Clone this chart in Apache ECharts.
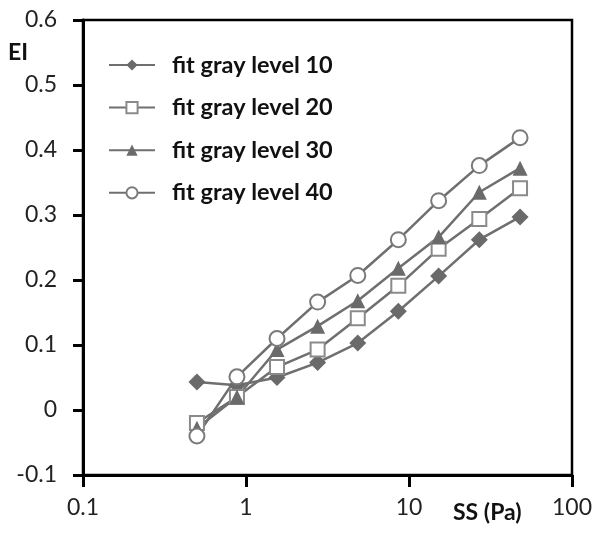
<!DOCTYPE html>
<html>
<head>
<meta charset="utf-8">
<script src="https://cdn.jsdelivr.net/npm/echarts@6/dist/echarts.min.js"></script>
<style>
  html, body { margin: 0; padding: 0; background: #fff; }
  #chart { width: 602px; height: 535px; }
</style>
</head>
<body>
<div id="chart"></div>
<script>
// shear stress (Pa), shared by all series
const ssValues = [0.5, 0.88, 1.55, 2.75, 4.85, 8.6, 15.2, 27, 48];
const seriesNames = ["fit gray level 10", "fit gray level 20", "fit gray level 30", "fit gray level 40"];
const level10 = [0.043, 0.038, 0.05, 0.073, 0.103, 0.152, 0.206, 0.262, 0.297];
const level20 = [-0.02, 0.02, 0.066, 0.093, 0.141, 0.191, 0.248, 0.294, 0.341];
const level30 = [-0.028, 0.02, 0.093, 0.129, 0.168, 0.218, 0.266, 0.335, 0.372];
const level40 = [-0.04, 0.051, 0.11, 0.166, 0.207, 0.262, 0.322, 0.376, 0.419];
const xTicks = ["0.1", "1", "10", "100"];

const lineGray = "#6f6f6f";

function pairs(ys) {
  return ssValues.map((x, i) => [x, ys[i]]);
}

function makeSeries(name, ys, symbol, size, fill, border) {
  return {
    name: name,
    type: "line",
    data: pairs(ys),
    symbol: symbol,
    symbolSize: size,
    lineStyle: { color: lineGray, width: 2.5 },
    itemStyle: { color: fill, borderColor: border, borderWidth: fill === "#fff" ? 2 : 0 },
    z: 3
  };
}

let chart = echarts.init(document.getElementById("chart"));
chart.setOption({
  animation: false,
  backgroundColor: "#fff",
  textStyle: { fontFamily: "Lato" },
  grid: {
    left: 83, right: 30, top: 20, bottom: 60,
    show: true, borderColor: "#000", borderWidth: 2.5
  },
  legend: {
    orient: "vertical",
    left: 103,
    top: 48,
    itemWidth: 46,
    itemHeight: 14,
    itemGap: 18.6,
    data: seriesNames,
    textStyle: { fontFamily: "Lato", fontSize: 23.5, fontWeight: "bold", color: "#111", padding: [0, 0, 0, 12] }
  },
  xAxis: {
    type: "log",
    logBase: 10,
    min: 0.1,
    max: 100,
    axisLine: { show: true, onZero: false, lineStyle: { color: "#000", width: 3 } },
    axisTick: { show: true, inside: false, length: 12, lineStyle: { color: "#000", width: 3 } },
    minorTick: { show: false },
    splitLine: { show: false },
    axisLabel: {
      margin: 21, fontSize: 23, color: "#222", fontFamily: "Lato",
      formatter: function (v) {
        const i = Math.round(Math.log10(v)) + 1;
        return xTicks[i] !== undefined ? xTicks[i] : "";
      }
    }
  },
  yAxis: {
    type: "value",
    min: -0.1,
    max: 0.6,
    interval: 0.1,
    axisLine: { show: true, onZero: false, lineStyle: { color: "#000", width: 3 } },
    axisTick: { show: true, inside: false, length: 10, lineStyle: { color: "#000", width: 3 } },
    splitLine: { show: false },
    axisLabel: {
      margin: 26, fontSize: 23, color: "#222", fontFamily: "Lato",
      formatter: function (v) { return String(Math.round(v * 10) / 10); }
    }
  },
  graphic: [
    { type: "text", left: 8, top: 41, style: { text: "EI", font: "bold 23px Lato", fill: "#111" } },
    { type: "text", left: 453, top: 501, style: { text: "SS (Pa)", font: "bold 23px Lato", fill: "#111" } }
  ],
  series: [
    makeSeries(seriesNames[0], level10, "diamond", 17, "#6a6a6a", "#6a6a6a"),
    makeSeries(seriesNames[1], level20, "rect", 14, "#fff", "#8a8a8a"),
    makeSeries(seriesNames[2], level30, "triangle", 15, "#6a6a6a", "#6a6a6a"),
    makeSeries(seriesNames[3], level40, "circle", 15, "#fff", "#7a7a7a")
  ]
});
</script>
</body>
</html>
